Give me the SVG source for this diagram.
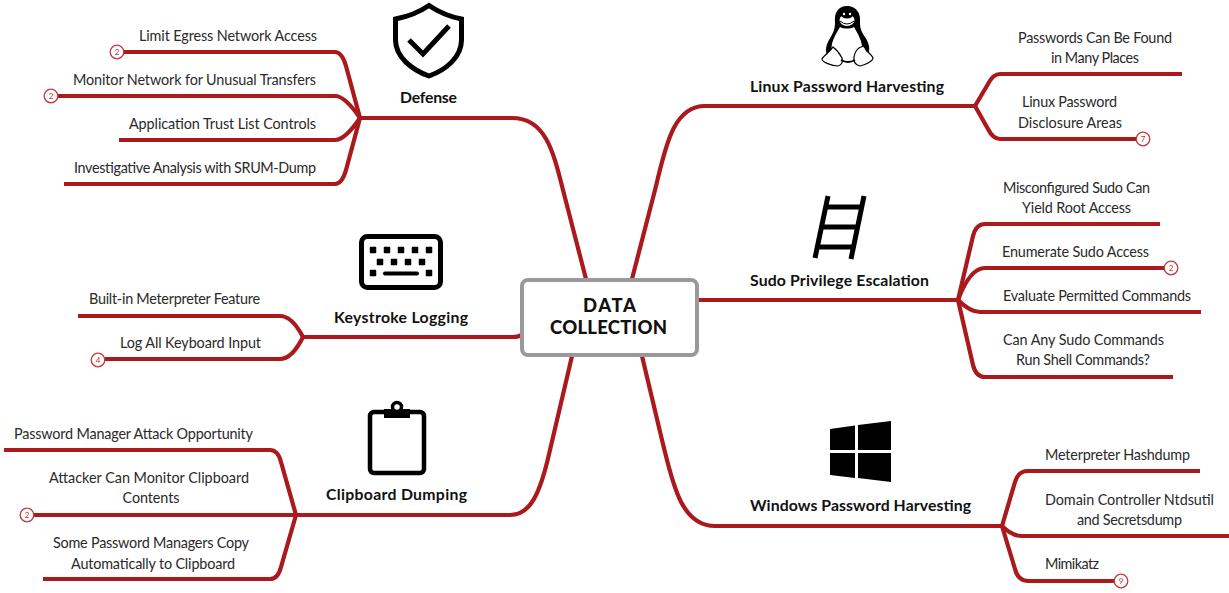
<svg xmlns="http://www.w3.org/2000/svg" width="1229" height="593" viewBox="0 0 1229 593">
<style>
text{font-family:"Lato","Liberation Sans",sans-serif;fill:#2a2a2a;font-size:14.4px;transform:translateY(.8px)}
.l{text-anchor:middle;font-weight:700;fill:#111;font-size:15.8px}
.t{text-anchor:middle;font-weight:900;fill:#111;font-size:18.500px}
.m{text-anchor:middle}
.r{text-anchor:end}
.c path{fill:none;stroke:#aa191c;stroke-width:4.200;stroke-linecap:butt;stroke-linejoin:round}
.b{fill:#fff;stroke:#c2393f;stroke-width:1.300}
.n{font-size:8px;fill:#b5353a;text-anchor:middle;transform:none}
.i{fill:none;stroke:#000;stroke-width:5}
</style>
<rect width="1229" height="593" fill="#fff"/>
<g id="connectors" class="c">
<path d="M586,279L563,190C553,150 545,118 512,118L360,118"/>
<path d="M360,118L346,66Q342,52 335,52L123,52"/>
<path d="M360,118Q345,96 335,96L57,96"/>
<path d="M360,118Q345,140 335,140L119,140"/>
<path d="M360,118L346,170Q342,184 335,184L64,184"/>
<path d="M632,279L655,190C665,150 672,106 705,106L975,106"/>
<path d="M975,106L988,84Q993,74 1000,74L1182,74"/>
<path d="M975,106L988,129Q993,139 1000,139L1137,139"/>
<path d="M698,300L958,300"/>
<path d="M958,300L973,236Q976,224 985,224L1160,224"/>
<path d="M958,300Q970,268 985,268L1165,268"/>
<path d="M958,300Q970,312 980,312L1201,312"/>
<path d="M958,300L973,365Q976,377 985,377L1173,377"/>
<path d="M642,356L662,440C672,480 680,526 715,526L1002,526"/>
<path d="M1002,526L1015,482Q1018,471 1028,471L1200,471"/>
<path d="M1002,526Q1012,536 1022,536L1229,536"/>
<path d="M1002,526L1015,569Q1018,581 1028,581L1115,581"/>
<path d="M522,334Q520,337 512,337L303,337"/>
<path d="M303,337Q292,316 280,316L78,316"/>
<path d="M303,337Q292,359 280,359L105,359"/>
<path d="M572,356L550,450C540,495 530,515 510,515L296,515"/>
<path d="M296,515L281,462Q278,450 270,450L4,450"/>
<path d="M296,515L34,515"/>
<path d="M296,515L281,567Q278,579 270,579L43,579"/>
</g>
<g id="center"><rect x="522" y="280" width="175" height="75" rx="6" fill="#fff" stroke="#999" stroke-width="4"/>
<text x="609.500" y="311" class="t" textLength="53">DATA</text><text x="608.500" y="333" class="t" textLength="117">COLLECTION</text></g>

<g id="defense"><path class="i" d="M429,5.500C418,13 406,17 395.500,19V40C395.500,57 412,70 429,76C446,70 461.500,57 461.500,40V19C451,17 440,13 429,5.500Z"/>
<path class="i" d="M409,40L423,54L449,26"/><text x="428.500" y="102" class="l" textLength="57">Defense</text></g>
<g id="d1"><text x="317" y="40" class="r" textLength="178">Limit Egress Network Access</text><circle class="b" cx="117" cy="52" r="6.800"/><text class="n" x="117" y="55">2</text></g>
<g id="d2"><text x="316" y="84" class="r" textLength="243">Monitor Network for Unusual Transfers</text><circle class="b" cx="51" cy="96" r="6.800"/><text class="n" x="51" y="99">2</text></g>
<g id="d3"><text x="316" y="128" class="r" textLength="187">Application Trust List Controls</text></g>
<g id="d4"><text x="316" y="172" class="r" textLength="242">Investigative Analysis with SRUM-Dump</text></g>

<g id="linux">
<path d="M847,6C838,6 834,13 835,22C835,30 833,33 829,40C825,47 825,53 829,59L866,59C871,52 870,44 865,37C861,31 860,28 860,22C861,13 856,6 847,6Z" fill="#000"/>
<path d="M840,27C836,34 830,43 832,51C834,59 841,62 847,62C854,62 861,58 862,50C863,42 858,34 854,27C850,29 844,29 840,27Z" fill="#fff"/>
<ellipse cx="847" cy="20" rx="7.500" ry="6" fill="#fff"/><ellipse cx="847" cy="14" rx="6.500" ry="4.500" fill="#000"/><circle cx="844" cy="14" r="1.200" fill="#fff"/><circle cx="850" cy="14" r="1.200" fill="#fff"/>
<path d="M840,21Q847,27 854,21" fill="none" stroke="#000" stroke-width="1"/>
<path d="M833,47C830,52 824,55 822,59C822,62 832,66 838,66C842,65 843,62 842,58C840,54 837,50 833,47Z" fill="#fff" stroke="#000" stroke-width="1.200"/>
<path d="M861,47C858,48 855,52 854,57C853,62 856,65 860,66C865,65 873,61 873,58C872,54 866,52 865,48C864,46 863,46 861,47Z" fill="#fff" stroke="#000" stroke-width="1.200"/>
<path d="M841,60Q848,64 855,60" fill="none" stroke="#000" stroke-width="2"/>
<text x="847" y="91" class="l" textLength="194">Linux Password Harvesting</text></g>
<g id="l1"><text x="1095" y="42" class="m" textLength="154">Passwords Can Be Found</text><text x="1095" y="62" class="m" textLength="88">in Many Places</text></g>
<g id="l2"><text x="1069.500" y="106" class="m" textLength="95">Linux Password</text><text x="1070" y="127" class="m" textLength="104">Disclosure Areas</text><circle class="b" cx="1143" cy="139" r="6.800"/><text class="n" x="1143" y="142">7</text></g>

<g id="sudo"><path d="M828,196L815,258M864,196L851,259M825,207H861M821,227H857M817,247H853" fill="none" stroke="#000" stroke-width="5"/><text x="839.500" y="285" class="l" textLength="179">Sudo Privilege Escalation</text></g>
<g id="s1"><text x="1076.500" y="192" class="m" textLength="147">Misconfigured Sudo Can</text><text x="1076.500" y="212" class="m" textLength="109">Yield Root Access</text></g>
<g id="s2"><text x="1002" y="256" textLength="147">Enumerate Sudo Access</text><circle class="b" cx="1171" cy="268" r="6.800"/><text class="n" x="1171" y="271">2</text></g>
<g id="s3"><text x="1003" y="300" textLength="188">Evaluate Permitted Commands</text></g>
<g id="s4"><text x="1083.500" y="344" class="m" textLength="161">Can Any Sudo Commands</text><text x="1083" y="364" class="m" textLength="134">Run Shell Commands?</text></g>

<g id="windows"><path d="M830,429L855,425.500V450H830ZM858,425L891,421V450H858ZM830,453H855V478L830,475ZM858,453H891V482L858,478Z" fill="#000"/><text x="860.500" y="510" class="l" textLength="221">Windows Password Harvesting</text></g>
<g id="w1"><text x="1045" y="459" textLength="145">Meterpreter Hashdump</text></g>
<g id="w2"><text x="1129.500" y="504" class="m" textLength="169">Domain Controller Ntdsutil</text><text x="1129.500" y="524" class="m" textLength="105">and Secretsdump</text></g>
<g id="w3"><text x="1045" y="568" textLength="54">Mimikatz</text><circle class="b" cx="1121" cy="581" r="6.800"/><text class="n" x="1121" y="584">9</text></g>

<g id="keystroke"><rect x="361.500" y="236.500" width="79" height="51" rx="6" class="i"/>
<path d="M370.500,247.500h5v5h-5zM384.500,247.500h5v5h-5zM398.500,247.500h5v5h-5zM412.500,247.500h5v5h-5zM426.500,247.500h5v5h-5zM377.500,259.500h5v5h-5zM391.500,259.500h5v5h-5zM405.500,259.500h5v5h-5zM419.500,259.500h5v5h-5zM370.500,270.500h5v5h-5zM426.500,270.500h5v5h-5z" fill="#000" stroke="#000" stroke-width="1.500" stroke-linejoin="round"/>
<path d="M385,273.500H417" stroke="#000" stroke-width="4" stroke-linecap="round"/>
<text x="401" y="322" class="l" textLength="134">Keystroke Logging</text></g>
<g id="k1"><text x="260" y="303" class="r" textLength="171">Built-in Meterpreter Feature</text></g>
<g id="k2"><text x="261" y="347" class="r" textLength="141">Log All Keyboard Input</text><circle class="b" cx="98" cy="360" r="6.800"/><text class="n" x="98" y="363">4</text></g>

<g id="clipboard"><rect x="370" y="412" width="54" height="61" rx="4" fill="none" stroke="#000" stroke-width="4.500"/>
<path d="M384,409H410V418H384Z" fill="#000"/><circle cx="397" cy="407" r="4.500" fill="#fff" stroke="#000" stroke-width="3.500"/>
<text x="396.500" y="499" class="l" textLength="141">Clipboard Dumping</text></g>
<g id="c1"><text x="253" y="438" class="r" textLength="239">Password Manager Attack Opportunity</text></g>
<g id="c2"><text x="149" y="482" class="m" textLength="200">Attacker Can Monitor Clipboard</text><text x="151" y="502" class="m" textLength="57">Contents</text><circle class="b" cx="27" cy="515" r="6.800"/><text class="n" x="27" y="518">2</text></g>
<g id="c3"><text x="151" y="547" class="m" textLength="196">Some Password Managers Copy</text><text x="153" y="568" class="m" textLength="164">Automatically to Clipboard</text></g>
</svg>
